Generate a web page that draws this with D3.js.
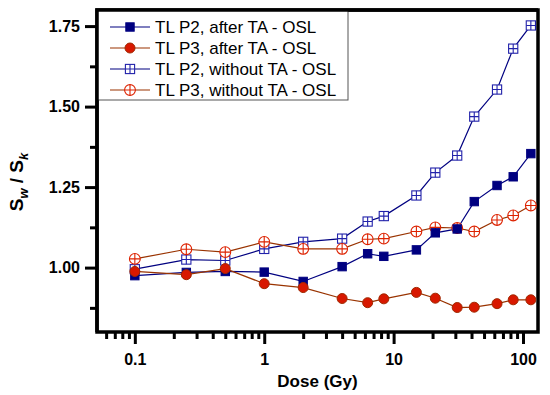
<!DOCTYPE html>
<html>
  <head>
    <meta charset="utf-8">
    <title>Sw / Sk vs dose</title>
    <style>
      body {
        margin: 0;
        padding: 0;
        background: #fff;
        font-family: 'Liberation Sans', Arial, sans-serif;
      }
    </style>
  </head>
  <body>
    <div id="chart"></div>

    <script src="https://cdnjs.cloudflare.com/ajax/libs/d3/7.8.5/d3.min.js"></script>
    <script>
      // Doses (Gy)
      const doses = [0.1, 0.25, 0.5, 1, 2, 4, 6.3, 8.4, 15, 21, 31, 42, 63, 84, 115];

      // Sw / Sk ratios
      const p2After = [0.975, 0.985, 0.988, 0.986, 0.957, 1.003, 1.043, 1.035, 1.055, 1.108, 1.12, 1.205, 1.255, 1.282, 1.354];
      const p3After = [0.988, 0.978, 0.997, 0.95, 0.938, 0.904, 0.891, 0.903, 0.923, 0.905, 0.876, 0.877, 0.888, 0.9, 0.9];
      const p2Without = [0.995, 1.025, 1.022, 1.058, 1.08, 1.09, 1.143, 1.16, 1.224, 1.295, 1.348, 1.469, 1.553, 1.68, 1.752];
      const p3Without = [1.027, 1.057, 1.048, 1.08, 1.058, 1.058, 1.088, 1.09, 1.112, 1.125, 1.123, 1.112, 1.148, 1.162, 1.193];

      const seriesNames = ['TL P2, after TA - OSL', 'TL P3, after TA - OSL', 'TL P2, without TA - OSL', 'TL P3, without TA - OSL'];
      const yTicks = [1.00, 1.25, 1.50, 1.75];
      const xTicks = [0.1, 1, 10, 100];

      const series = [
        {name: seriesNames[0], values: p2After, line: '#000080', marker: 'sq', fill: '#000080', stroke: '#000080'},
        {name: seriesNames[1], values: p3After, line: '#993300', marker: 'circ', fill: '#d81800', stroke: '#a02800'},
        {name: seriesNames[2], values: p2Without, line: '#000080', marker: 'sqx', fill: '#fff', stroke: '#2222aa'},
        {name: seriesNames[3], values: p3Without, line: '#993300', marker: 'circx', fill: '#fff', stroke: '#dd2200'}
      ];

      const W = 550, H = 395;
      const L = 97, R = 538, T = 10, B = 332;
      const font = "'Liberation Sans', Arial, sans-serif";

      const svg = d3.select('#chart').append('svg')
        .attr('width', W).attr('height', H);

      const x = d3.scaleLog().domain([0.051, 130.6]).range([L, R]);
      const y = d3.scaleLinear().domain([0.8, 1.8]).range([B, T]);

      // minor ticks
      const xMinor = [];
      [0.01, 0.1, 1, 10, 100].forEach(p => {
        for (let k = 2; k <= 9; k++) {
          const v = p * k;
          if (v >= 0.051 && v <= 130) xMinor.push(v);
        }
      });
      const yMinor = [0.875, 1.125, 1.375, 1.625];

      // x axis
      const xAxis = svg.append('g').attr('transform', `translate(0,${B})`);
      xAxis.call(d3.axisBottom(x).tickValues(xTicks).tickFormat(d3.format('')).tickSize(12).tickPadding(10));
      xAxis.append('g').call(d3.axisBottom(x).tickValues(xMinor).tickFormat('').tickSize(7));

      // y axis
      const yAxis = svg.append('g').attr('transform', `translate(${L},0)`);
      yAxis.call(d3.axisLeft(y).tickValues(yTicks).tickFormat(d3.format('.2f')).tickSize(12).tickPadding(5));
      yAxis.append('g').call(d3.axisLeft(y).tickValues(yMinor).tickFormat('').tickSize(7));

      svg.selectAll('.domain').remove();
      svg.selectAll('.tick line').attr('stroke', '#000').attr('stroke-width', 3);
      svg.selectAll('.tick text')
        .attr('fill', '#000')
        .style('font-size', '16px')
        .style('font-weight', 'bold')
        .style('font-family', font);

      // frame
      svg.append('rect')
        .attr('x', L).attr('y', T)
        .attr('width', R - L).attr('height', B - T)
        .attr('fill', 'none').attr('stroke', '#000').attr('stroke-width', 3.5);

      const line = d3.line()
        .x((d, i) => x(doses[i]))
        .y(d => y(d));

      function drawMarker(g, type, cx, cy, fill, stroke) {
        if (type === 'sq') {
          g.append('rect').attr('x', cx - 4.2).attr('y', cy - 4.2).attr('width', 8.4).attr('height', 8.4)
            .attr('fill', fill).attr('stroke', stroke).attr('stroke-width', 1);
        } else if (type === 'circ') {
          g.append('circle').attr('cx', cx).attr('cy', cy).attr('r', 5)
            .attr('fill', fill).attr('stroke', stroke).attr('stroke-width', 1);
        } else if (type === 'sqx') {
          g.append('rect').attr('x', cx - 4.6).attr('y', cy - 4.6).attr('width', 9.2).attr('height', 9.2)
            .attr('fill', fill).attr('stroke', stroke).attr('stroke-width', 1.1);
          g.append('path').attr('d', `M${cx - 4.6},${cy}H${cx + 4.6}M${cx},${cy - 4.6}V${cy + 4.6}`)
            .attr('stroke', stroke).attr('stroke-width', 1.1);
        } else {
          g.append('circle').attr('cx', cx).attr('cy', cy).attr('r', 5.4)
            .attr('fill', fill).attr('stroke', stroke).attr('stroke-width', 1.1);
          g.append('path').attr('d', `M${cx - 5.4},${cy}H${cx + 5.4}M${cx},${cy - 5.4}V${cy + 5.4}`)
            .attr('stroke', stroke).attr('stroke-width', 1.1);
        }
      }

      const plot = svg.append('g');
      // lines first, then markers; open series underneath the filled ones
      const order = [2, 3, 0, 1];
      order.forEach(si => {
        const s = series[si];
        plot.append('path').datum(s.values)
          .attr('d', line).attr('fill', 'none')
          .attr('stroke', s.line).attr('stroke-width', 1.2);
      });
      order.forEach(si => {
        const s = series[si];
        const g = plot.append('g');
        s.values.forEach((v, i) => drawMarker(g, s.marker, x(doses[i]), y(v), s.fill, s.stroke));
      });

      // legend
      const leg = svg.append('g');
      leg.append('rect')
        .attr('x', L).attr('y', T).attr('width', 251).attr('height', 90)
        .attr('fill', '#fff').attr('stroke', '#555').attr('stroke-width', 1);
      series.forEach((s, i) => {
        const ly = 27 + i * 21;
        leg.append('line').attr('x1', 110).attr('x2', 150).attr('y1', ly).attr('y2', ly)
          .attr('stroke', s.line).attr('stroke-width', 1.2);
        drawMarker(leg, s.marker, 130, ly, s.fill, s.stroke);
        leg.append('text').attr('x', 155).attr('y', ly + 6)
          .style('font-size', '17px')
          .style('font-family', font)
          .text(s.name);
      });
      // top/left frame edge over the legend box
      svg.append('path').attr('d', `M${L},${B}V${T}H${R}`)
        .attr('fill', 'none').attr('stroke', '#000').attr('stroke-width', 3.5);

      // axis titles
      svg.append('text')
        .attr('x', (L + R) / 2).attr('y', 387)
        .attr('text-anchor', 'middle')
        .style('font-size', '17px').style('font-weight', 'bold').style('font-family', font)
        .text('Dose (Gy)');

      const yt = svg.append('text')
        .attr('transform', 'translate(23,182) rotate(-90)')
        .attr('text-anchor', 'middle')
        .style('font-size', '19px').style('font-weight', 'bold').style('font-family', font);
      yt.append('tspan').text('S');
      yt.append('tspan').attr('dy', 5).style('font-size', '13px').style('font-style', 'italic').text('w');
      yt.append('tspan').attr('dy', -5).text(' / S');
      yt.append('tspan').attr('dy', 5).style('font-size', '13px').style('font-style', 'italic').text('k');
    </script>
  </body>
</html>
